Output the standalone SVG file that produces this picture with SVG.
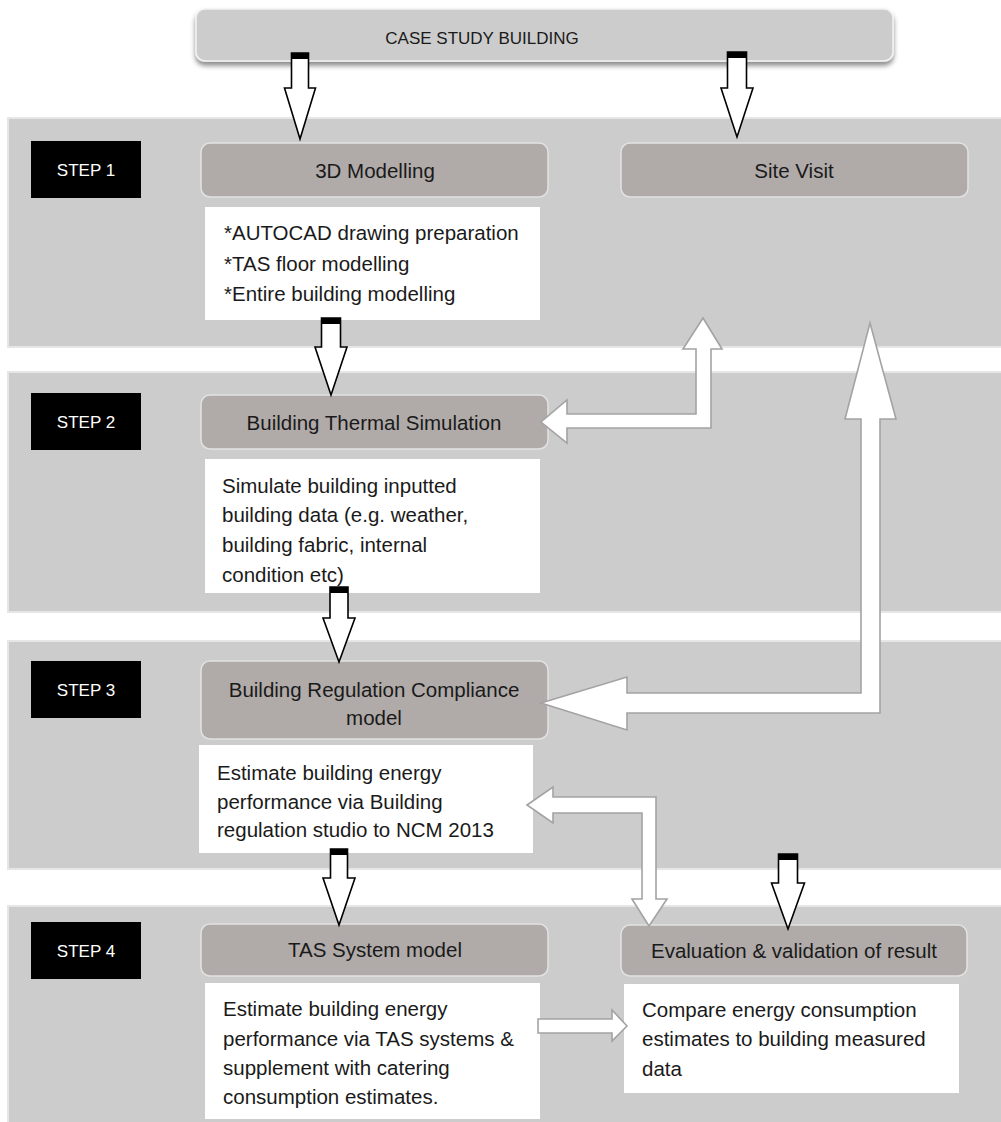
<svg xmlns="http://www.w3.org/2000/svg" width="1001" height="1122" viewBox="0 0 1001 1122">
<defs>
<filter id="shadow" x="-5%" y="-30%" width="110%" height="180%">
<feDropShadow dx="0" dy="4" stdDeviation="2.5" flood-color="#000" flood-opacity="0.45"/>
</filter>
</defs>
<style>
.band{fill:#cccccc;stroke:#e6e6e6;stroke-width:2}
.step{fill:#000}
.steptxt{font-family:"Liberation Sans",Arial,sans-serif;font-size:17px;fill:#fff;text-anchor:middle}
.node{fill:#b0aaa9;stroke:#e2e2e2;stroke-width:1.5}
.box{fill:#fff}
.t{font-family:"Liberation Sans",Arial,sans-serif;font-size:20.5px;fill:#1a1a1a}
.c{text-anchor:middle}
.blk{fill:#fff;stroke:#000;stroke-width:1.6;stroke-linejoin:miter}
.cap{fill:#000}
.gry{fill:#fff;stroke:#a3a3a3;stroke-width:1.6;stroke-linejoin:miter}
</style>
<rect width="1001" height="1122" fill="#fff"/>

<g id="case-study-building">
<rect x="196" y="9" width="697" height="52" rx="9" fill="#cccccc" stroke="#f2f2f2" stroke-width="1.5" filter="url(#shadow)"/>
<text x="482" y="44" class="t c" style="font-size:17px">CASE STUDY BUILDING</text>
</g>

<g id="step1">
<rect class="band" x="8" y="118" width="1000" height="229"/>
<rect class="step" x="31" y="141" width="110" height="57"/>
<text class="steptxt" x="86" y="176">STEP 1</text>
</g>
<g id="step2">
<rect class="band" x="8" y="372" width="1000" height="240"/>
<rect class="step" x="31" y="393" width="110" height="57"/>
<text class="steptxt" x="86" y="428">STEP 2</text>
</g>
<g id="step3">
<rect class="band" x="8" y="641" width="1000" height="228"/>
<rect class="step" x="31" y="661" width="110" height="57"/>
<text class="steptxt" x="86" y="696">STEP 3</text>
</g>
<g id="step4">
<rect class="band" x="8" y="906" width="1000" height="220"/>
<rect class="step" x="31" y="922" width="110" height="57"/>
<text class="steptxt" x="86" y="957">STEP 4</text>
</g>

<g id="modelling-3d">
<rect class="node" x="201" y="143" width="347" height="54" rx="9"/>
<text class="t c" x="375" y="178">3D Modelling</text>
</g>
<g id="modelling-3d-detail">
<rect class="box" x="205" y="207" width="335" height="113"/>
<text class="t" x="224" y="240">*AUTOCAD drawing preparation</text>
<text class="t" x="224" y="271">*TAS floor modelling</text>
<text class="t" x="224" y="301">*Entire building modelling</text>
</g>
<g id="site-visit">
<rect class="node" x="621" y="143" width="347" height="54" rx="9"/>
<text class="t c" x="794" y="178">Site Visit</text>
</g>

<g id="thermal-simulation">
<rect class="node" x="201" y="395" width="347" height="54" rx="9"/>
<text class="t c" x="374" y="430">Building Thermal Simulation</text>
</g>
<g id="thermal-simulation-detail">
<rect class="box" x="205" y="459" width="335" height="134"/>
<text class="t" x="222" y="493">Simulate building inputted</text>
<text class="t" x="222" y="522">building data (e.g. weather,</text>
<text class="t" x="222" y="552">building fabric, internal</text>
<text class="t" x="222" y="582">condition etc)</text>
</g>

<g id="compliance-model">
<rect class="node" x="201" y="661" width="347" height="78" rx="9"/>
<text class="t c" x="374" y="697">Building Regulation Compliance</text>
<text class="t c" x="374" y="725">model</text>
</g>
<g id="compliance-model-detail">
<rect class="box" x="199" y="745" width="334" height="108"/>
<text class="t" x="217" y="780">Estimate building energy</text>
<text class="t" x="217" y="809">performance via Building</text>
<text class="t" x="217" y="837">regulation studio to NCM 2013</text>
</g>

<g id="tas-system-model">
<rect class="node" x="201" y="924" width="347" height="52" rx="9"/>
<text class="t c" x="375" y="957">TAS System model</text>
</g>
<g id="tas-system-model-detail">
<rect class="box" x="205" y="983" width="335" height="136"/>
<text class="t" x="223" y="1016">Estimate building energy</text>
<text class="t" x="223" y="1046">performance via TAS systems &amp;</text>
<text class="t" x="223" y="1075">supplement with catering</text>
<text class="t" x="223" y="1104">consumption estimates.</text>
</g>

<g id="evaluation">
<rect class="node" x="621" y="925" width="346" height="51" rx="9"/>
<text class="t c" x="794" y="958">Evaluation &amp; validation of result</text>
</g>
<g id="evaluation-detail">
<rect class="box" x="624" y="984" width="335" height="109"/>
<text class="t" x="642" y="1017">Compare energy consumption</text>
<text class="t" x="642" y="1046">estimates to building measured</text>
<text class="t" x="642" y="1076">data</text>
</g>

<g id="connectors">
<polygon class="blk" points="291.5,53 308.5,53 308.5,88 315.5,88 300,139 284.5,88 291.5,88"/>
<rect class="cap" x="291.5" y="53" width="17" height="6"/>
<polygon class="blk" points="727.5,52 746.5,52 746.5,88 753,88 737,137 721,88 727.5,88"/>
<rect class="cap" x="727.5" y="52" width="19" height="6"/>
<polygon class="blk" points="321.5,318 340.5,318 340.5,347 347,347 331,395 315,347 321.5,347"/>
<rect class="cap" x="321.5" y="318" width="19" height="6"/>
<polygon class="blk" points="330,587 348,587 348,618 355,618 339,662 323,618 330,618"/>
<rect class="cap" x="330" y="587" width="18" height="6"/>
<polygon class="blk" points="330.5,849 347.5,849 347.5,878 355,878 339,925 323,878 330.5,878"/>
<rect class="cap" x="330.5" y="849" width="17" height="6"/>
<polygon class="blk" points="778.5,854 797.5,854 797.5,883 804.5,883 788,929 771.5,883 778.5,883"/>
<rect class="cap" x="778.5" y="854" width="19" height="6"/>

<polygon class="gry" points="703,318 722,349 711,349 711,428 567,428 567,443 541,422 567,400 567,414 696,414 696,349 683,349"/>
<polygon class="gry" points="870,323 896,419 880,419 880,713 627,713 627,730 541,703 627,677 627,693 861,693 861,419 845,419"/>
<polygon class="gry" points="527,805 553,787 553,797 656,797 656,899 667,899 649,926 632,899 642,899 642,813 553,813 553,823"/>
<polygon class="gry" points="538,1019 612,1019 612,1010 627,1026 612,1041 612,1033 538,1033"/>
</g>
</svg>
